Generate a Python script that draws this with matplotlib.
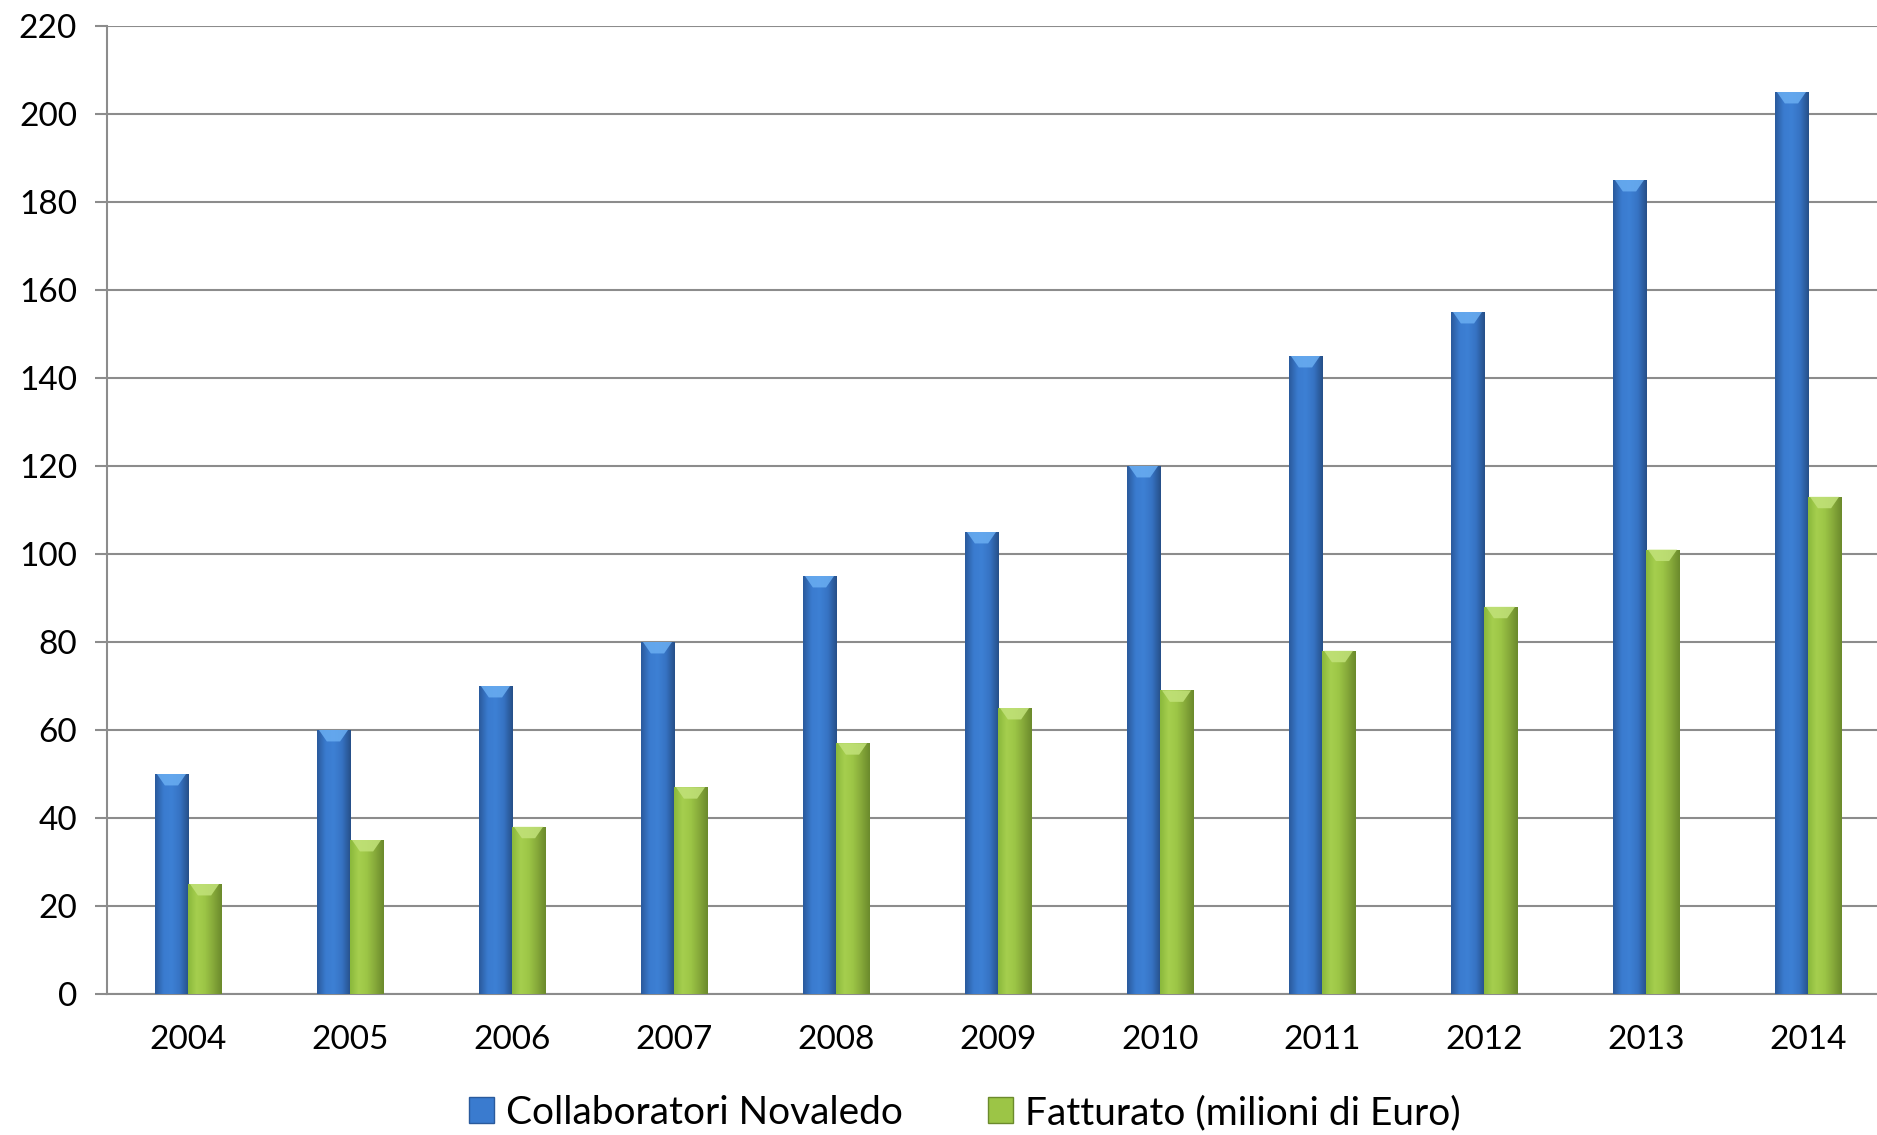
import numpy as np
import matplotlib
matplotlib.use("Agg")
import matplotlib.pyplot as plt
from matplotlib.colors import LinearSegmentedColormap
from matplotlib.patches import Rectangle, Polygon

years = ["2004", "2005", "2006", "2007", "2008", "2009", "2010", "2011", "2012", "2013", "2014"]
collaboratori = [50, 60, 70, 80, 95, 105, 120, 145, 155, 185, 205]
fatturato = [25, 35, 38, 47, 57, 65, 69, 78, 88, 101, 113]
series_names = ["Collaboratori Novaledo", "Fatturato (milioni di Euro)"]
yticks = list(range(0, 221, 20))

plt.rcParams['font.family'] = ['Lato', 'DejaVu Sans']

W, H = 1877, 1135
fig = plt.figure(figsize=(W / 100, H / 100), dpi=100)
ax = fig.add_axes([107 / W, (H - 994) / H, 1782 / W, 968 / H])

x = np.arange(len(years))
bw = 0.204
blue_cmap = LinearSegmentedColormap.from_list("b", ["#2a5a9c", "#3a7bcf", "#3d80d4", "#3672c2", "#264f88"])
green_cmap = LinearSegmentedColormap.from_list("g", ["#8ab83c", "#a6cf4e", "#9cc546", "#86a93a", "#6b8a2c"])
caps = {"b": "#6aaef2", "g": "#c2e27a"}

b1 = ax.bar(x - bw / 2, collaboratori, bw, color="#3a7bcf", zorder=3, linewidth=0)
b2 = ax.bar(x + bw / 2, fatturato, bw, color="#9cc546", zorder=3, linewidth=0)

grad = np.linspace(0, 1, 64).reshape(1, -1)
cap_h = 2.6
for bars, cmap, cap in ((b1, blue_cmap, caps["b"]), (b2, green_cmap, caps["g"])):
    for p in bars:
        x0, y0 = p.get_x(), p.get_y()
        w, h = p.get_width(), p.get_height()
        im = ax.imshow(grad, cmap=cmap, aspect="auto", extent=[x0, x0 + w, y0, y0 + h],
                       zorder=3.5, interpolation="bicubic")
        im.set_clip_path(p)
        top = y0 + h
        ax.add_patch(Polygon([(x0 + 0.06 * w, top), (x0 + 0.94 * w, top),
                              (x0 + 0.7 * w, top - cap_h), (x0 + 0.3 * w, top - cap_h)],
                             closed=True, facecolor=cap, edgecolor="none", zorder=4, alpha=0.85))

ax.set_xlim(-0.5, len(years) - 0.5)
ax.set_ylim(0, 220)
ax.set_yticks(yticks)
ax.set_xticks(x)
ax.set_xticklabels(years)
ax.yaxis.grid(True, color="#8c8c8c", linewidth=1.5, zorder=0)
ax.set_axisbelow(True)
for s in ("top", "right"):
    ax.spines[s].set_visible(False)
for s in ("left", "bottom"):
    ax.spines[s].set_color("#8c8c8c")
    ax.spines[s].set_linewidth(1.5)
ax.tick_params(axis="y", length=8.6, width=1.5, color="#8c8c8c", labelsize=24, pad=13)
ax.tick_params(axis="x", length=0, labelsize=24, pad=22)

handles = [Rectangle((0, 0), 1, 1, facecolor="#3a7bcf", edgecolor="#2a5a9c"),
           Rectangle((0, 0), 1, 1, facecolor="#9cc546", edgecolor="#6b8a2c")]
fig.legend(handles, series_names, loc="center", bbox_to_anchor=(0.514, 0.0194),
           ncol=2, frameon=False, fontsize=28, handlelength=0.65, handleheight=0.65,
           handletextpad=0.3, columnspacing=2.2)

fig.savefig("out.png", dpi=100)
